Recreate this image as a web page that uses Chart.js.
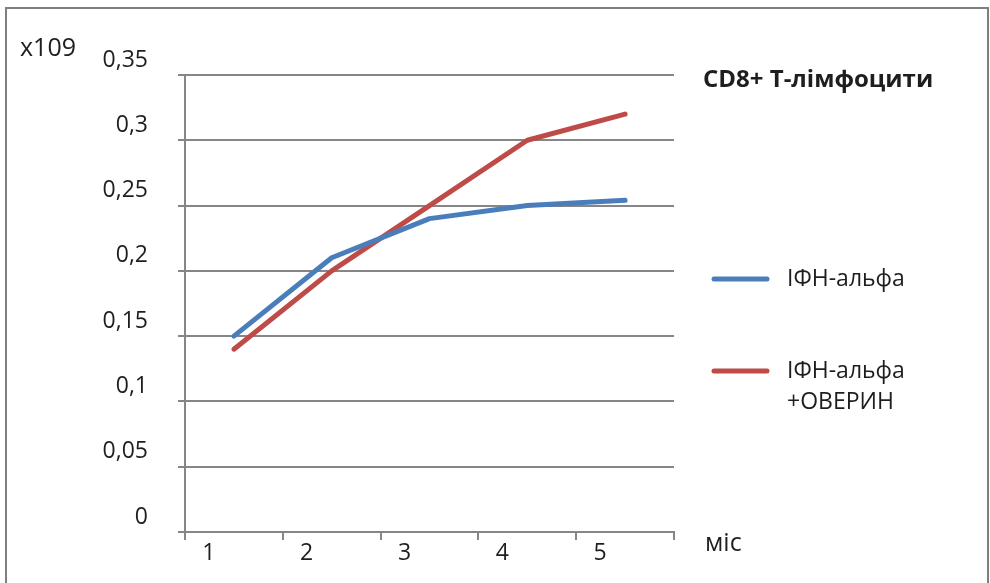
<!DOCTYPE html>
<html>
<head>
<meta charset="utf-8">
<script src="https://cdn.jsdelivr.net/npm/chart.js@4/dist/chart.umd.min.js"></script>
<style>
html,body{margin:0;padding:0;background:#fff;}
canvas{display:block;}
</style>
</head>
<body>
<canvas id="c" width="990" height="583"></canvas>
<script>
const categories = ['1', '2', '3', '4', '5'];
const seriesIFN = [0.15, 0.21, 0.24, 0.25, 0.254];
const seriesIFNOverin = [0.14, 0.20, 0.25, 0.30, 0.32];
const seriesLabels = [['ІФН-альфа'], ['ІФН-альфа', '+ОВЕРИН']];
const seriesColors = ['#4A7EBB', '#BE4B48'];
const yTicks = [0, 0.05, 0.1, 0.15, 0.2, 0.25, 0.3, 0.35];
const chartTitle = 'CD8+ Т-лімфоцити';
const yUnit = 'x109';
const xUnit = 'міс';

const FONT = '"Open Sans", "DejaVu Sans", sans-serif';
const TEXT = '#1e1e1e';
const GRID = '#868686';

const decor = {
  id: 'decor',
  afterDraw(chart) {
    const ctx = chart.ctx;
    ctx.save();
    // outer frame
    ctx.strokeStyle = '#7f7f7f';
    ctx.lineWidth = 2;
    ctx.strokeRect(6, 8, 982, 620);
    // unit labels
    ctx.fillStyle = TEXT;
    ctx.font = '25px ' + FONT;
    ctx.textAlign = 'left';
    ctx.textBaseline = 'middle';
    ctx.fillText(yUnit, 20, 49);
    ctx.fillText(xUnit, 705, 544);
    // title
    ctx.font = 'bold 24px ' + FONT;
    ctx.fillText(chartTitle, 703, 80);
    // legend
    const ys = [279, 371];
    chart.data.datasets.forEach((ds, i) => {
      const y = ys[i];
      ctx.strokeStyle = ds.borderColor;
      ctx.lineWidth = 5;
      ctx.lineCap = 'round';
      ctx.beginPath();
      ctx.moveTo(714, y);
      ctx.lineTo(767, y);
      ctx.stroke();
      ctx.fillStyle = TEXT;
      ctx.font = '23px ' + FONT;
      const lines = Array.isArray(ds.label) ? ds.label : [ds.label];
      lines.forEach((t, j) => ctx.fillText(t, 787, y + j * 31));
    });
    ctx.restore();
  }
};

new Chart(document.getElementById('c'), {
  type: 'line',
  data: {
    labels: categories,
    datasets: [
      { label: seriesLabels[0], data: seriesIFN, borderColor: seriesColors[0], backgroundColor: seriesColors[0] },
      { label: seriesLabels[1], data: seriesIFNOverin, borderColor: seriesColors[1], backgroundColor: seriesColors[1] }
    ]
  },
  options: {
    responsive: false,
    devicePixelRatio: 1,
    animation: false,
    layout: { padding: { left: 0, top: 75, right: 316, bottom: 0 } },
    elements: {
      line: { borderWidth: 5, borderCapStyle: 'round', borderJoinStyle: 'round', tension: 0 },
      point: { radius: 0, hoverRadius: 0 }
    },
    plugins: {
      legend: { display: false },
      title: { display: false },
      tooltip: { enabled: false }
    },
    scales: {
      x: {
        type: 'category',
        offset: true,
        grid: { offset: true, drawOnChartArea: false, drawTicks: true, tickLength: 8, color: GRID, lineWidth: 2 },
        border: { display: true, color: GRID, width: 2 },
        ticks: { color: TEXT, font: { family: FONT, size: 23 }, labelOffset: -25, padding: 0, maxRotation: 0, autoSkip: false },
        afterFit(s) { s.height = 583 - 532; }
      },
      y: {
        min: 0,
        max: 0.35,
        afterBuildTicks(s) { s.ticks = yTicks.map(v => ({ value: v })); },
        grid: { color: GRID, lineWidth: 2, tickLength: 7, drawTicks: true },
        border: { display: true, color: GRID, width: 2 },
        ticks: {
          color: TEXT,
          font: { family: FONT, size: 23 },
          padding: 30,
          labelOffset: -15,
          callback: v => String(Number(v.toFixed(2))).replace('.', ',')
        },
        afterFit(s) { s.width = 185; }
      }
    }
  },
  plugins: [decor]
});
</script>
</body>
</html>
